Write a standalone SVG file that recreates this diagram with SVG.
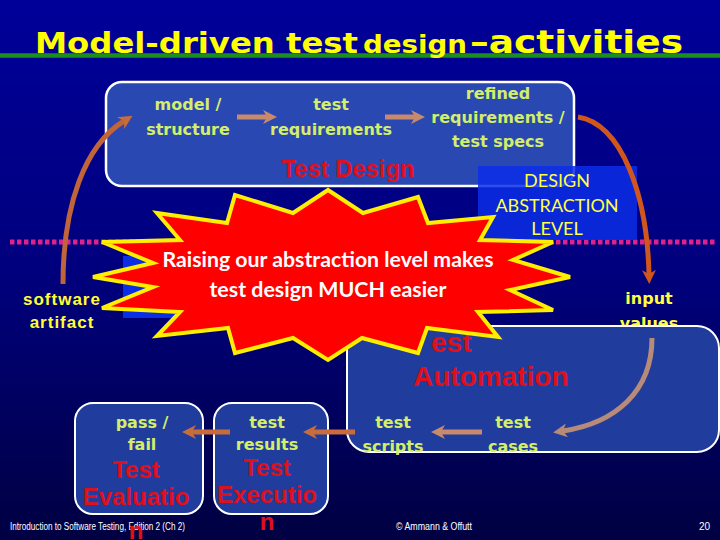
<svg xmlns="http://www.w3.org/2000/svg" width="720" height="540" viewBox="0 0 720 540">
<defs>
<linearGradient id="bg" x1="0" y1="0" x2="0" y2="1">
<stop offset="0" stop-color="#000099"/>
<stop offset="0.5" stop-color="#00007e"/>
<stop offset="1" stop-color="#000042"/>
</linearGradient>
<marker id="mBrown" viewBox="0 0 14 14" markerWidth="14" markerHeight="14" refX="4" refY="7" orient="auto" markerUnits="userSpaceOnUse"><path d="M0,0 L14,7 L0,14 L4,7 z" fill="#c88a6c"/></marker>
<marker id="mOrange" viewBox="0 0 14 14" markerWidth="14" markerHeight="14" refX="4" refY="7" orient="auto" markerUnits="userSpaceOnUse"><path d="M0,0 L14,7 L0,14 L4,7 z" fill="#c86c3c"/></marker>
<marker id="mRed" viewBox="0 0 14 14" markerWidth="14" markerHeight="14" refX="4" refY="7" orient="auto" markerUnits="userSpaceOnUse"><path d="M0,0 L14,7 L0,14 L4,7 z" fill="#d0561c"/></marker>
<marker id="mRose" viewBox="0 0 14 14" markerWidth="14" markerHeight="14" refX="4" refY="7" orient="auto" markerUnits="userSpaceOnUse"><path d="M0,0 L14,7 L0,14 L4,7 z" fill="#b88a78"/></marker>
<style>
.box{fill:#2a48b2;stroke:#ffffff;stroke-width:2.5}
.sbox{fill:#203d9e;stroke:#ffffff;stroke-width:2}
.lbl{font-family:"DejaVu Sans",sans-serif;font-weight:bold;font-size:16px;fill:#d4ee6a;text-anchor:middle}
.ylbl{font-family:"DejaVu Sans",sans-serif;font-weight:bold;font-size:16px;fill:#ffff40;text-anchor:middle}
.red{font-family:"Liberation Sans",Arial,sans-serif;font-weight:bold;font-size:24px;fill:#e0101a;text-anchor:middle}
.redl{font-family:"Liberation Sans",Arial,sans-serif;font-weight:bold;font-size:28px;fill:#e0101a;text-anchor:start}
.title{font-family:"DejaVu Sans",Verdana,sans-serif;font-weight:bold;fill:#ffff00}
.lvl{font-family:Lato,"Liberation Sans",sans-serif;font-size:18px;fill:#ffff44;text-anchor:middle}
.foot{font-family:"Liberation Sans",Arial,sans-serif;font-size:10px;fill:#ffffff}
.arr{fill:none;stroke-width:5}
</style>
</defs>
<rect x="0" y="0" width="720" height="540" fill="url(#bg)"/>
<g id="title">
<line x1="0" y1="55.5" x2="720" y2="55.5" stroke="#1b8f1b" stroke-width="4.5"/>
<text class="title" x="35" y="53" font-size="28" textLength="323" lengthAdjust="spacingAndGlyphs">Model-driven test</text>
<text class="title" x="363" y="53" font-size="25" textLength="104" lengthAdjust="spacingAndGlyphs">design</text>
<text class="title" x="470" y="53" font-size="32" textLength="213" lengthAdjust="spacingAndGlyphs">–activities</text>
</g>
<g id="footer">
<text class="foot" x="10" y="530" textLength="175" lengthAdjust="spacingAndGlyphs">Introduction to Software Testing, Edition 2 (Ch 2)</text>
<text class="foot" x="396" y="530" textLength="76" lengthAdjust="spacingAndGlyphs">© Ammann &amp; Offutt</text>
<text class="foot" x="710" y="530" text-anchor="end">20</text>
</g>
<line id="abstraction-line" x1="10" y1="242" x2="716" y2="242" stroke="#dd2288" stroke-width="5" stroke-dasharray="4.5 2.5"/>
<g id="test-design">
<rect class="box" x="106" y="82" width="468" height="104" rx="16"/>
<text class="lbl" x="188" y="110">model /</text>
<text class="lbl" x="188" y="135">structure</text>
<text class="lbl" x="331" y="110">test</text>
<text class="lbl" x="331" y="135">requirements</text>
<text class="lbl" x="498" y="99">refined</text>
<text class="lbl" x="498" y="123">requirements /</text>
<text class="lbl" x="498" y="147">test specs</text>
<text x="348" y="177" font-family="Liberation Sans,Arial,sans-serif" font-size="23" font-weight="bold" fill="#e0101a" text-anchor="middle" textLength="133" lengthAdjust="spacingAndGlyphs">Test Design</text>
</g>
<g id="design-abstraction-level">
<rect x="478" y="166" width="159" height="74" fill="#0a2ee6" fill-opacity="0.85"/>
<text class="lvl" x="557" y="187">DESIGN</text>
<text class="lvl" x="557" y="212">ABSTRACTION</text>
<text class="lvl" x="557" y="235">LEVEL</text>
</g>
<rect x="123" y="256" width="100" height="62" fill="#0a2ee6"/>
<g id="software-artifact">
<text x="62" y="305" font-family="Liberation Sans,Arial,sans-serif" font-size="17" font-weight="bold" fill="#ffff33" text-anchor="middle" letter-spacing="1">software</text>
<text x="62" y="328" font-family="Liberation Sans,Arial,sans-serif" font-size="17" font-weight="bold" fill="#ffff33" text-anchor="middle" letter-spacing="1">artifact</text>
</g>
<g id="input-values">
<text class="ylbl" x="649" y="304">input</text>
<text class="ylbl" x="649" y="329">values</text>
</g>
<g id="test-automation">
<rect class="sbox" x="347" y="326" width="372" height="126" rx="22"/>
<text class="redl" x="431" y="352">est</text>
<text class="redl" x="413" y="386">Automation</text>
<text class="lbl" x="393" y="428">test</text>
<text class="lbl" x="393" y="452">scripts</text>
<text class="lbl" x="513" y="428">test</text>
<text class="lbl" x="513" y="452">cases</text>
</g>
<g id="test-execution">
<rect class="sbox" x="214" y="403" width="114" height="111" rx="18"/>
<text class="lbl" x="267" y="428">test</text>
<text class="lbl" x="267" y="450">results</text>
<text class="red" x="267" y="476">Test</text>
<text class="red" x="267" y="503">Executio</text>
<text class="red" x="267" y="530">n</text>
</g>
<g id="test-evaluation">
<rect class="sbox" x="75" y="403" width="128" height="111" rx="18"/>
<text class="lbl" x="142" y="428">pass /</text>
<text class="lbl" x="142" y="450">fail</text>
<text class="red" x="136" y="478">Test</text>
<text class="red" x="136" y="505">Evaluatio</text>
<text class="red" x="136" y="539">n</text>
</g>
<g id="connectors">
<path class="arr" d="M63,284 C63,205 85,145 124,121" stroke="#c0643a" stroke-width="4" marker-end="url(#mOrange)"/>
<path class="arr" d="M237,117 H267" stroke="#c88a6c" marker-end="url(#mBrown)"/>
<path class="arr" d="M385,117 H415" stroke="#c88a6c" marker-end="url(#mBrown)"/>
<path class="arr" d="M578,117 C622,124 647,195 649,274" stroke="#d0561c" stroke-width="4" marker-end="url(#mRed)"/>
<path class="arr" d="M652,338 C652,392 615,423 563,431" stroke="#b88a78" stroke-width="4" marker-end="url(#mRose)"/>
<path class="arr" d="M482,432 H441" stroke="#c88a6c" marker-end="url(#mBrown)"/>
<path class="arr" d="M355,432 H313" stroke="#c86c3c" marker-end="url(#mOrange)"/>
<path class="arr" d="M230,432 H192" stroke="#c86c3c" marker-end="url(#mOrange)"/>
</g>
<g id="callout">
<polygon points="328,190 363,213 418,197 428,223 493,217 480,240 553,242 513,260 570,277 510,290 553,310 478,312 498,337 427,328 418,353 362,338 328,360 293,338 235,353 228,328 157,336 180,312 102,308 153,287 93,277 153,263 102,242 180,240 157,213 227,223 235,195 293,213" fill="#ff0000" stroke="#ffee00" stroke-width="4"/>
<text x="328" y="267" font-family="Lato,'Open Sans',sans-serif" font-weight="bold" font-size="20" fill="#ffffff" text-anchor="middle" textLength="331" lengthAdjust="spacingAndGlyphs">Raising our abstraction level makes</text>
<text x="328" y="297" font-family="Lato,'Open Sans',sans-serif" font-weight="bold" font-size="20" fill="#ffffff" text-anchor="middle" textLength="237" lengthAdjust="spacingAndGlyphs">test design MUCH easier</text>
</g>
</svg>
